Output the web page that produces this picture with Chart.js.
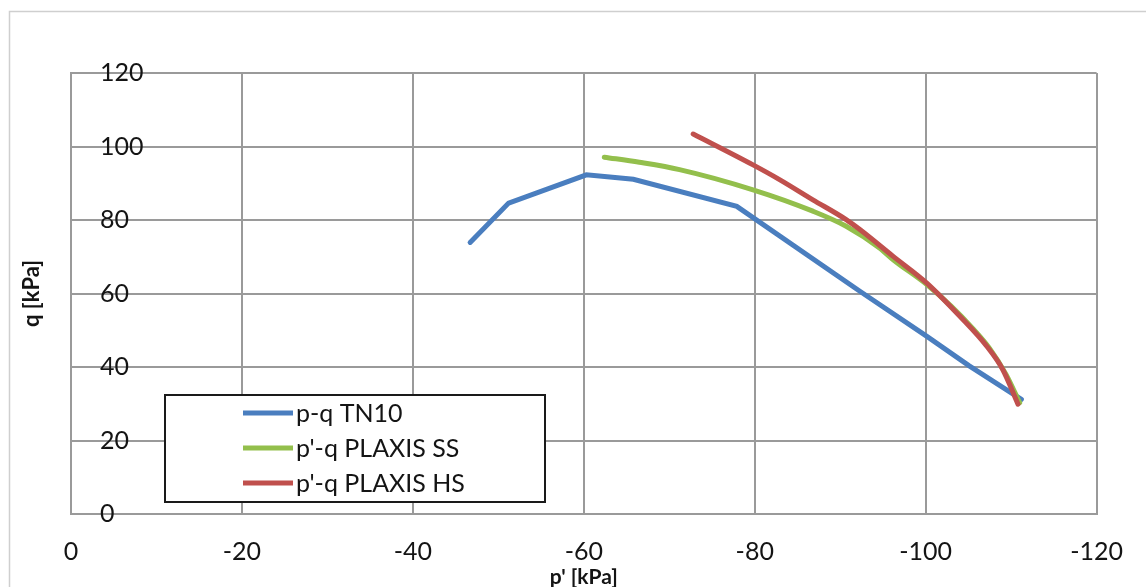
<!DOCTYPE html>
<html>
<head>
<meta charset="utf-8">
<script src="https://cdn.jsdelivr.net/npm/chart.js@4"></script>
<style>
  html, body { margin: 0; padding: 0; background: #fff; }
  #wrap { width: 1146px; height: 587px; }
</style>
</head>
<body>
<div id="wrap"><canvas id="myChart" width="1146" height="587"></canvas></div>
<script>
// p' [kPa] and q [kPa]
const tnP = [-46.7, -51.2, -60.3, -65.8, -77.9, -92.3, -100.1, -105.1, -111.2];
const tnQ = [73.9, 84.6, 92.3, 91.1, 83.7, 60.6, 48.4, 40.3, 31.2];

const ssP = [-62.4, -66.5, -71.2, -79.8, -86.8, -90.7, -94.6, -96.2, -100.1, -103.0, -105.5, -107.5, -109.4, -111.0];
const ssQ = [97.1, 95.7, 93.7, 88.2, 82.4, 78.3, 72.4, 69.2, 62.5, 56.5, 50.5, 45.0, 38.0, 30.3];

const hsP = [-72.8, -79.8, -82.9, -86.8, -90.7, -92.3, -96.2, -100.1, -104.0, -107.1, -109.0, -110.8];
const hsQ = [103.4, 95.0, 91.0, 85.5, 80.1, 77.4, 70.1, 62.9, 53.8, 45.8, 39.4, 29.9];

const seriesNames = ["p-q TN10", "p'-q PLAXIS SS", "p'-q PLAXIS HS"];
const seriesColors = ["#4a7ebf", "#93bf4c", "#c0504d"];

const xTicks = [0, -20, -40, -60, -80, -100, -120];
const yTicks = [0, 20, 40, 60, 80, 100, 120];

const FONT = "Lato, 'Open Sans', sans-serif";
const GRID = "#9a9a9a";

function toPoints(ps, qs) {
    return ps.map((p, i) => ({ x: p, y: qs[i] }));
}

// outer frame of the chart object
const framePlugin = {
    id: "frame",
    beforeDraw(chart) {
        const ctx = chart.ctx;
        ctx.save();
        ctx.strokeStyle = "#cfcfcf";
        ctx.lineWidth = 1.5;
        ctx.beginPath();
        ctx.moveTo(9.5, chart.height);
        ctx.lineTo(9.5, 11.5);
        ctx.lineTo(chart.width, 11.5);
        ctx.stroke();
        ctx.restore();
    }
};

// boxed legend sitting inside the plot
const boxLegend = {
    id: "boxLegend",
    afterDraw(chart) {
        const ctx = chart.ctx;
        const x0 = 165, y0 = 395, w = 380, h = 107;
        ctx.save();
        ctx.fillStyle = "#fff";
        ctx.fillRect(x0, y0, w, h);
        ctx.strokeStyle = "#1a1a1a";
        ctx.lineWidth = 2;
        ctx.strokeRect(x0, y0, w, h);
        ctx.font = "25px " + FONT;
        ctx.textBaseline = "middle";
        ctx.textAlign = "left";
        chart.data.datasets.forEach((ds, i) => {
            const y = 413 + i * 35;
            ctx.strokeStyle = ds.borderColor;
            ctx.lineWidth = 5;
            ctx.beginPath();
            ctx.moveTo(243, y);
            ctx.lineTo(293, y);
            ctx.stroke();
            ctx.fillStyle = "#141414";
            ctx.fillText(ds.label, 296, y + 1);
        });
        ctx.restore();
    }
};

new Chart("myChart", {
    type: "scatter",
    data: {
        datasets: [
            { label: seriesNames[0], data: toPoints(tnP, tnQ), borderColor: seriesColors[0], order: 2 },
            { label: seriesNames[1], data: toPoints(ssP, ssQ), borderColor: seriesColors[1], order: 1, cubicInterpolationMode: "monotone" },
            { label: seriesNames[2], data: toPoints(hsP, hsQ), borderColor: seriesColors[2], order: 0, cubicInterpolationMode: "monotone" }
        ].map(d => Object.assign(d, {
            showLine: true,
            borderWidth: 5,
            pointRadius: 0,
            backgroundColor: d.borderColor,
            borderCapStyle: "round"
        }))
    },
    options: {
        responsive: false,
        animation: false,
        layout: { padding: { top: 73, right: 49, left: 0, bottom: 0 } },
        plugins: {
            legend: { display: false },
            tooltip: { enabled: false }
        },
        scales: {
            x: {
                type: "linear",
                min: -120,
                max: 0,
                reverse: true,
                afterFit: s => { s.height = 73; },
                afterBuildTicks: s => { s.ticks = xTicks.map(v => ({ value: v })); },
                grid: { color: GRID, lineWidth: 2, drawTicks: false },
                border: { color: GRID, width: 2 },
                ticks: {
                    padding: 23,
                    color: "#141414",
                    font: { family: FONT, size: 25 }
                },
                title: {
                    display: true,
                    text: "p' [kPa]",
                    color: "#141414",
                    font: { family: FONT, size: 21, weight: "bold", lineHeight: 1 },
                    padding: { top: 0, bottom: -1 }
                }
            },
            y: {
                type: "linear",
                min: 0,
                max: 120,
                afterFit: s => { s.width = 71; },
                afterBuildTicks: s => { s.ticks = yTicks.map(v => ({ value: v })); },
                grid: { color: GRID, lineWidth: 2, drawTicks: false },
                border: { color: GRID, width: 2 },
                ticks: {
                    mirror: true,
                    padding: 29,
                    color: "#141414",
                    font: { family: FONT, size: 25 }
                },
                title: {
                    display: true,
                    text: "q [kPa]",
                    color: "#141414",
                    font: { family: FONT, size: 22, weight: "bold", lineHeight: 1 },
                    padding: { top: 21, bottom: 0 }
                }
            }
        }
    },
    plugins: [framePlugin, boxLegend]
});
</script>
</body>
</html>
